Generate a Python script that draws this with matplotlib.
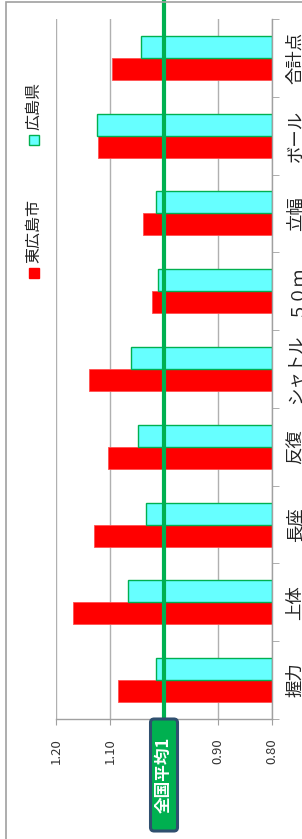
import matplotlib
matplotlib.use('Agg')
import matplotlib.pyplot as plt
import numpy as np
from matplotlib.patches import Rectangle, FancyBboxPatch

plt.rcParams['font.family'] = ['Noto Sans CJK JP', 'DejaVu Sans']

categories = ['握力', '上体', '長座', '反復', 'シャトル', '５０ｍ', '立幅', 'ボール', '合計点']
higashi = [1.085, 1.169, 1.130, 1.104, 1.139, 1.023, 1.039, 1.123, 1.096]
hiroshima = [1.014, 1.066, 1.033, 1.049, 1.062, 1.012, 1.014, 1.124, 1.043]
series_names = ['東広島市', '広島県']
value_ticks = [0.80, 0.90, 1.00, 1.10, 1.20]
avg_label = '全国平均1'
avg_value = 1.0
base = 0.8

W, H = 302, 839
fig = plt.figure(figsize=(W / 100, H / 100), dpi=100)
fig.patch.set_facecolor('white')

# outer border (chart area)
fig.patches.append(Rectangle((6 / W, -0.05), 1.2, 1 - 2 / H + 0.05, transform=fig.transFigure,
                             fill=False, ec='#A0A0A0', lw=1.2))

ax = fig.add_axes([56 / W, 1 - 719 / H, (272 - 56) / W, (719 - 19) / H])
y = np.arange(len(categories))
h = 0.283
ax.barh(y - h / 2, np.array(higashi) - base, left=base, height=h,
        color='#FF0000', edgecolor='#FF5050', lw=0.6, zorder=2)
ax.barh(y + h / 2, np.array(hiroshima) - base, left=base, height=h,
        color='#66FFFF', edgecolor='#00B050', lw=1, zorder=2)
ax.set_xlim(max(value_ticks), min(value_ticks))
ax.set_ylim(-0.5, len(categories) - 0.5)

ax.set_xticks(value_ticks)
# the 1.00 label is hidden behind the average label box in the reference
ax.set_xticklabels(['' if abs(v - avg_value) < 1e-9 else f'{v:.2f}' for v in value_ticks],
                   rotation=90, fontsize=9.5, color='#333333')
ax.tick_params(axis='x', length=4, color='#A0A0A0', pad=10)
ax.grid(axis='x', color='#B0B0B0', lw=1)
ax.set_axisbelow(True)

ax.yaxis.tick_right()
ax.set_yticks(y)
ax.set_yticklabels(categories, rotation=90, fontsize=12.5, color='#222222', va='center')
ax.set_yticks(np.arange(len(categories) + 1) - 0.5, minor=True)
ax.tick_params(axis='y', which='major', length=0, pad=10.5)
ax.tick_params(axis='y', which='minor', length=5, color='#A0A0A0')

for s in ['top', 'left']:
    ax.spines[s].set_visible(False)
for s in ['bottom', 'right']:
    ax.spines[s].set_color('#A0A0A0')
    ax.spines[s].set_linewidth(1)

# national average line
ax.plot([avg_value, avg_value], [-0.5, len(categories) + 0.5], color='#00B050', lw=3,
        clip_on=False, zorder=4)

# label box
fig.canvas.draw()
xpix = ax.transData.transform((avg_value, 0))[0]
bw, bh = 27, 112
bx = xpix - bw / 2
by = 839 - 831
fig.patches.append(FancyBboxPatch((bx / W, by / H), bw / W, bh / H,
                                  boxstyle='round,pad=0,rounding_size=0.012',
                                  transform=fig.transFigure, fc='#00B050', ec='#2F4F6F', lw=2.2,
                                  mutation_aspect=W / H))
fig.text(xpix / W, (by + bh / 2) / H, avg_label, rotation=90, ha='center', va='center',
         color='white', fontweight='bold', fontsize=12)

# legend
colors = ['#FF0000', '#66FFFF']
edges = ['#FF0000', '#00B050']
leg_sq_y = [273, 140]
for name, c, e, sy in zip(series_names, colors, edges, leg_sq_y):
    fig.patches.append(Rectangle((29 / W, 1 - (sy + 5) / H), 10 / W, 10 / H,
                                 transform=fig.transFigure, fc=c, ec=e, lw=1))
    fig.text(34 / W, 1 - (sy - 10) / H, name, rotation=90, ha='center', va='bottom',
             fontsize=11.5, color='#222222')

fig.savefig('out.png', dpi=100, facecolor='white')
